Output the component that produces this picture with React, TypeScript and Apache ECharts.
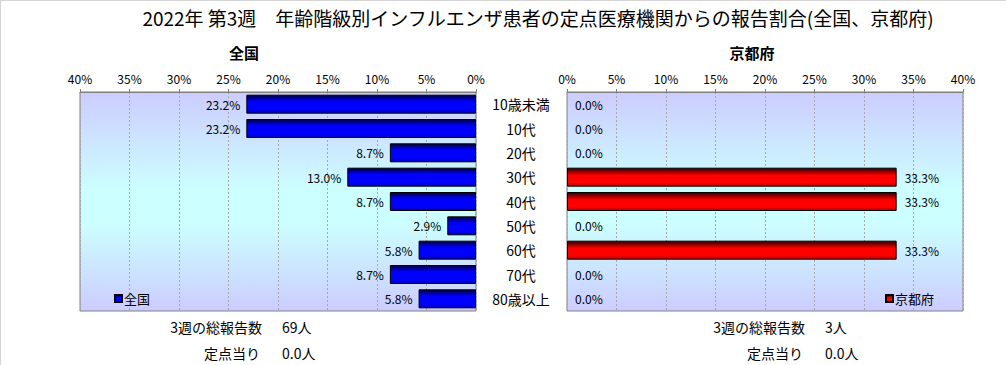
import React, { useEffect, useRef } from "react";
import * as echarts from "echarts";

const categories = ["10歳未満", "10代", "20代", "30代", "40代", "50代", "60代", "70代", "80歳以上"];
const nationalValues = [23.2, 23.2, 8.7, 13.0, 8.7, 2.9, 5.8, 8.7, 5.8];
const kyotoValues = [0, 0, 0, 33.3, 33.3, 0, 33.3, 0, 0];
const tickValues = { min: 0, max: 40, interval: 5 };
const titleText = "2022年 第3週　年齢階級別インフルエンザ患者の定点医療機関からの報告割合(全国、京都府)";
const nationalName = "全国";
const kyotoName = "京都府";
const nationalTotal = "69人";
const kyotoTotal = "3人";
const nationalPerPoint = "0.0人";
const kyotoPerPoint = "0.0人";

const FONT = "'MS PGothic', 'Noto Sans CJK JP', sans-serif";

const makeBg = () =>
  new echarts.graphic.LinearGradient(0, 0, 0, 1, [
    { offset: 0, color: "#ccccff" },
    { offset: 0.45, color: "#ccffff" },
    { offset: 0.6, color: "#ccffff" },
    { offset: 1, color: "#ccccff" },
  ]);

const blueGrad = new echarts.graphic.LinearGradient(0, 0, 0, 1, [
  { offset: 0, color: "#000040" },
  { offset: 0.35, color: "#0000ff" },
  { offset: 0.8, color: "#0000ff" },
  { offset: 1, color: "#0000b0" },
]);
const redGrad = new echarts.graphic.LinearGradient(0, 0, 0, 1, [
  { offset: 0, color: "#300000" },
  { offset: 0.4, color: "#ff0000" },
  { offset: 0.8, color: "#ff0000" },
  { offset: 1, color: "#b00000" },
]);

const toData = (arr: number[]) =>
  arr.map((v) => (v === 0 ? { value: v, itemStyle: { borderWidth: 0 } } : v));

export default function App() {
  const ref = useRef<HTMLDivElement>(null);
  useEffect(() => {
    if (!ref.current) return;
    const chart = echarts.init(ref.current, undefined, { renderer: "svg" });
    const xAxisCommon = {
      type: "value",
      position: "top",
      min: tickValues.min,
      max: tickValues.max,
      interval: tickValues.interval,
      axisLine: { show: true, lineStyle: { color: "#808080" } },
      axisTick: { show: true, length: 3, lineStyle: { color: "#808080" } },
      axisLabel: { formatter: "{value}%", fontSize: 12, color: "#000", fontFamily: FONT, margin: 8 },
      splitLine: { show: true, lineStyle: { color: "#a8a8a8", type: [2, 2] } },
    };
    const labelFmt = (p: any) => Number(p.value).toFixed(1) + "%";
    chart.setOption({
      animation: false,
      backgroundColor: "#ffffff",
      textStyle: { fontFamily: FONT },
      grid: [
        { left: 80, top: 92, width: 396, height: 219, show: true, backgroundColor: makeBg(), borderColor: "#808080", borderWidth: 1 },
        { left: 567, top: 92, width: 396, height: 219, show: true, backgroundColor: makeBg(), borderColor: "#808080", borderWidth: 1 },
      ],
      xAxis: [
        { ...xAxisCommon, gridIndex: 0, inverse: true },
        { ...xAxisCommon, gridIndex: 1 },
      ],
      yAxis: [
        {
          type: "category",
          gridIndex: 0,
          data: categories,
          inverse: true,
          position: "right",
          axisLine: { show: false },
          axisTick: { show: false },
          axisLabel: { align: "center", margin: 45, fontSize: 14, color: "#000", fontFamily: FONT },
        },
        {
          type: "category",
          gridIndex: 1,
          data: categories,
          inverse: true,
          axisLine: { show: false },
          axisTick: { show: false },
          axisLabel: { show: false },
        },
      ],
      legend: [
        {
          data: [{ name: nationalName }],
          left: 114,
          top: 292,
          itemWidth: 7,
          itemHeight: 7,
          icon: "rect",
          textStyle: { fontSize: 13, color: "#000", fontFamily: FONT, padding: [0, 0, 0, -3] },
          padding: 0,
        },
        {
          data: [{ name: kyotoName }],
          left: 885,
          top: 292,
          itemWidth: 7,
          itemHeight: 7,
          icon: "rect",
          textStyle: { fontSize: 13, color: "#000", fontFamily: FONT, padding: [0, 0, 0, -3] },
          padding: 0,
        },
      ],
      series: [
        {
          type: "bar",
          name: nationalName,
          xAxisIndex: 0,
          yAxisIndex: 0,
          data: toData(nationalValues),
          barCategoryGap: "22%",
          itemStyle: { color: blueGrad, borderColor: "#000", borderWidth: 1 },
          label: { show: true, position: "left", distance: 6, fontSize: 12, color: "#000", fontFamily: FONT, formatter: labelFmt },
        },
        {
          type: "bar",
          name: kyotoName,
          xAxisIndex: 1,
          yAxisIndex: 1,
          data: toData(kyotoValues),
          barCategoryGap: "22%",
          itemStyle: { color: redGrad, borderColor: "#000", borderWidth: 1 },
          label: { show: true, position: "right", distance: 8, fontSize: 12, color: "#000", fontFamily: FONT, formatter: labelFmt },
        },
      ],
      graphic: [
        { type: "line", shape: { x1: 0.5, y1: 0, x2: 0.5, y2: 365 }, style: { stroke: "#d4d4d4", lineWidth: 1 } },
        { type: "line", shape: { x1: 0, y1: 0.5, x2: 1006, y2: 0.5 }, style: { stroke: "#d4d4d4", lineWidth: 1 } },
        { type: "text", x: 538, y: 17, style: { text: titleText, fontSize: 19, fill: "#000", fontFamily: FONT, align: "center", verticalAlign: "middle" } },
        { type: "text", x: 244, y: 52, style: { text: nationalName, fontSize: 15, fontWeight: "bold", fill: "#000", fontFamily: FONT, align: "center", verticalAlign: "middle" } },
        { type: "text", x: 752, y: 52, style: { text: kyotoName, fontSize: 15, fontWeight: "bold", fill: "#000", fontFamily: FONT, align: "center", verticalAlign: "middle" } },
        { type: "text", x: 262, y: 327, style: { text: "3週の総報告数", fontSize: 14, fill: "#000", fontFamily: FONT, align: "right", verticalAlign: "middle" } },
        { type: "text", x: 282, y: 327, style: { text: nationalTotal, fontSize: 14, fill: "#000", fontFamily: FONT, align: "left", verticalAlign: "middle" } },
        { type: "text", x: 260, y: 353, style: { text: "定点当り", fontSize: 14, fill: "#000", fontFamily: FONT, align: "right", verticalAlign: "middle" } },
        { type: "text", x: 282, y: 353, style: { text: nationalPerPoint, fontSize: 14, fill: "#000", fontFamily: FONT, align: "left", verticalAlign: "middle" } },
        { type: "text", x: 805, y: 327, style: { text: "3週の総報告数", fontSize: 14, fill: "#000", fontFamily: FONT, align: "right", verticalAlign: "middle" } },
        { type: "text", x: 825, y: 327, style: { text: kyotoTotal, fontSize: 14, fill: "#000", fontFamily: FONT, align: "left", verticalAlign: "middle" } },
        { type: "text", x: 803, y: 353, style: { text: "定点当り", fontSize: 14, fill: "#000", fontFamily: FONT, align: "right", verticalAlign: "middle" } },
        { type: "text", x: 825, y: 353, style: { text: kyotoPerPoint, fontSize: 14, fill: "#000", fontFamily: FONT, align: "left", verticalAlign: "middle" } },
      ],
    });
    return () => chart.dispose();
  }, []);
  return <div ref={ref} style={{ position: "absolute", left: 0, top: 0, width: 1006, height: 365 }} />;
}
